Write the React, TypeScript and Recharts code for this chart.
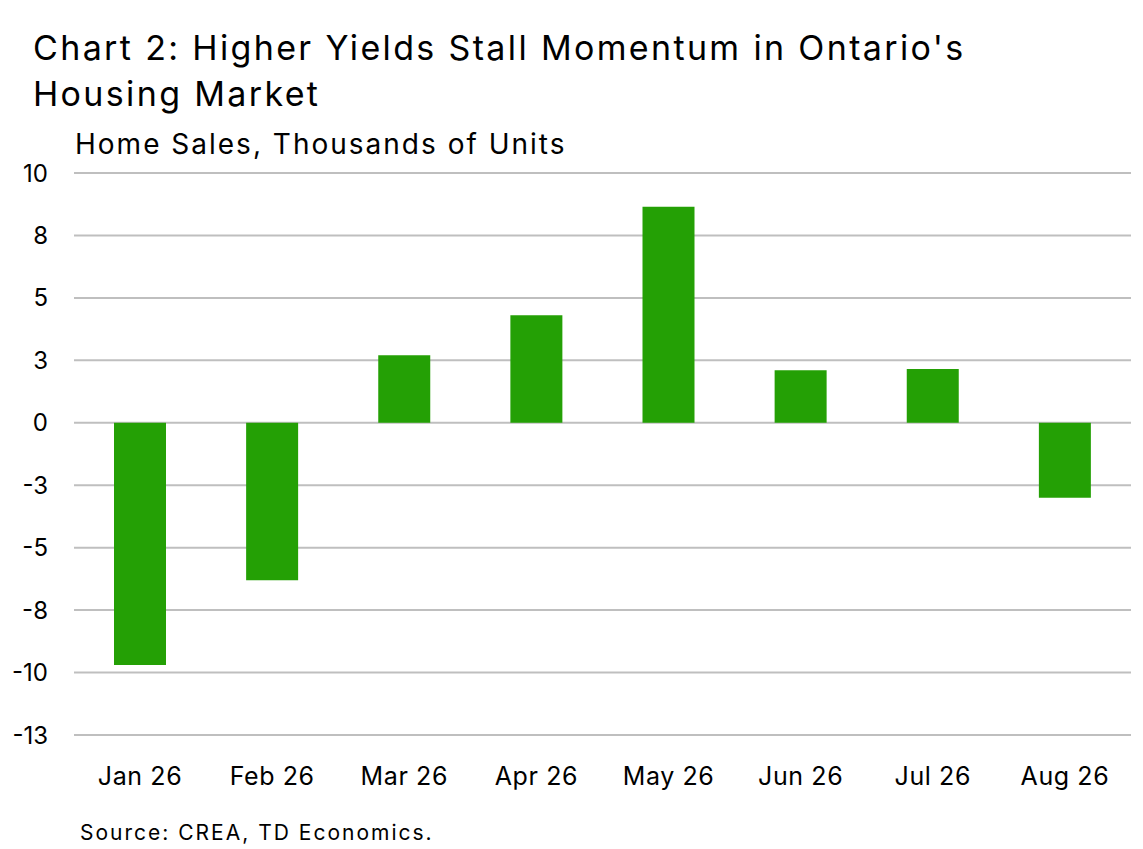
import React from 'react';
import { BarChart, Bar, XAxis, YAxis, CartesianGrid } from 'recharts';

const months = ['Jan 26', 'Feb 26', 'Mar 26', 'Apr 26', 'May 26', 'Jun 26', 'Jul 26', 'Aug 26'];
const homeSales = [-9.7, -6.3, 2.7, 4.3, 8.65, 2.1, 2.15, -3.0];
const yTicks = [-12.5, -10, -7.5, -5, -2.5, 0, 2.5, 5, 7.5, 10];

const FONT = 'Inter, "Noto Sans", sans-serif';

const data = months.map((m, i) => ({ month: m, value: homeSales[i] }));

// labels are rounded half away from zero (7.5 -> 8, -12.5 -> -13)
const fmtTick = (v: number) => String(Math.sign(v) * Math.round(Math.abs(v)));

const App: React.FC = () => {
    return (
        <div style={{ position: 'absolute', left: 0, top: 0, width: 1143, height: 849, background: '#fff', fontFamily: FONT, color: '#000' }}>
            <div style={{ position: 'absolute', left: 33, top: 25, fontSize: 34, lineHeight: '46px', letterSpacing: 2.35, whiteSpace: 'nowrap' }}>
                Chart 2: Higher Yields Stall Momentum in Ontario's
                <br />
                Housing Market
            </div>
            <div style={{ position: 'absolute', left: 75, top: 126, fontSize: 28, lineHeight: '36px', letterSpacing: 2 }}>
                Home Sales, Thousands of Units
            </div>
            <div style={{ position: 'absolute', left: 80, top: 819, fontSize: 21, lineHeight: '28px', letterSpacing: 2 }}>
                Source: CREA, TD Economics.
            </div>
            <div style={{ position: 'absolute', left: 0, top: 0 }}>
                <BarChart width={1143} height={849} data={data} margin={{ top: 173, right: 12, bottom: 54, left: 0 }}>
                    <CartesianGrid vertical={false} stroke="#bfbfbf" strokeWidth={2} />
                    <XAxis
                        dataKey="month"
                        height={60}
                        axisLine={false}
                        tickLine={false}
                        tickSize={0}
                        tickMargin={32}
                        tick={{ fill: '#000', fontSize: 25, fontFamily: FONT, letterSpacing: 0.6 }}
                    />
                    <YAxis
                        width={74}
                        domain={[-12.5, 10]}
                        ticks={yTicks}
                        interval={0}
                        tickFormatter={fmtTick}
                        axisLine={false}
                        tickLine={false}
                        tickSize={0}
                        tickMargin={26}
                        tick={{ fill: '#000', fontSize: 24, fontFamily: FONT }}
                    />
                    <Bar dataKey="value" fill="#24a005" barSize={52} isAnimationActive={false} />
                </BarChart>
            </div>
        </div>
    );
};

export default App;
